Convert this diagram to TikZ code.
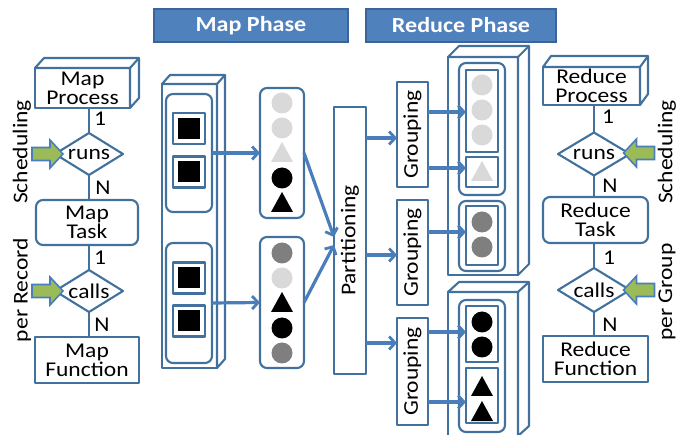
\documentclass[tikz,border=0pt]{standalone}
\usepackage{fontspec}
\setmainfont{Carlito}[FakeStretch=1.12]
\usetikzlibrary{arrows.meta,calc,shapes.geometric}
\definecolor{bl}{HTML}{41719C}
\definecolor{arc}{HTML}{4A7EBB}
\definecolor{hdr}{HTML}{4F81BD}
\definecolor{hdrb}{HTML}{3B649A}
\definecolor{grn}{HTML}{9BBB59}
\definecolor{lg}{HTML}{D9D9D9}
\definecolor{dg}{HTML}{7F7F7F}
\newcommand{\mytxt}{\fontsize{21}{19}\selectfont}
\newcommand{\cuboid}[3]{%
  \draw[shp, fill=white] (#1.north west) -- ++(#2,#3) -- ($(#1.north east)+(#2,#3)$) -- ($(#1.south east)+(#2,#3)$) -- (#1.south east) -- (#1.north east) -- cycle;
  \draw[shp] (#1.north east) -- ++(#2,#3);}
\begin{document}
\begin{tikzpicture}[x=1pt,y=-1pt,
  shp/.style={draw=bl, line width=2.1pt, line join=round},
  box/.style={shp, fill=white, inner sep=0pt, outer sep=0pt, align=center, font=\mytxt},
  rbox/.style={box, rounded corners=7pt},
  dia/.style={box, diamond, aspect=1.6, minimum width=68pt, minimum height=42pt},
  sq/.style={box, minimum width=32pt, minimum height=31pt},
  blk/.style={fill=black, minimum width=22pt, minimum height=21pt, inner sep=0pt},
  circ/.style={circle, minimum size=21pt, inner sep=0pt},
  lbl/.style={font=\mytxt, inner sep=0pt},
  hdrbox/.style={draw=hdrb, line width=1.2pt, fill=hdr, text=white, font=\fontsize{21.5}{19}\selectfont\bfseries, minimum height=33pt, inner sep=0pt},
  conn/.style={shp},
  arr/.style={draw=arc, line width=3.2pt, -{Straight Barb[length=6pt,width=13pt,line width=2.8pt]}},
  garrow/.pic={\draw[draw=arc, fill=grn, line width=1.6pt, line join=miter] (-15.5,-6.5) -- (2.5,-6.5) -- (2.5,-14) -- (15.5,0) -- (2.5,14) -- (2.5,6.5) -- (-15.5,6.5) -- cycle;},
  tri/.pic={\path[pic actions] (-11,9) -- (0,-11) -- (11,9) -- cycle;}
]
\useasboundingbox (0,0) rectangle (680,435);
\fill[white] (0,0) rectangle (680,435);
\clip (0,0) rectangle (680,435);

% headers
\node[hdrbox, minimum width=194pt] (hm) at (251,25.5) {Map Phase};
\node[hdrbox, minimum width=190pt] (hr) at (461,25.5) {Reduce Phase};

% ---------- left column ----------
\node[box, minimum width=95pt, minimum height=40pt] (mp) at (82.5,88) {Map\\Process};
\cuboid{mp}{9}{-10}
\node[dia] (runs1) at (89,154) {runs};
\node[rbox, minimum width=102pt, minimum height=45pt] (mt) at (87,222.5) {Map\\Task};
\node[dia] (calls1) at (89,291) {calls};
\node[box, minimum width=104pt, minimum height=46pt] (mf) at (87,360) {Map\\Function};
\draw[conn] (runs1.north) -- (runs1.north |- mp.south);
\draw[conn] (runs1.south) -- (runs1.south |- mt.north);
\draw[conn] (calls1.north) -- (calls1.north |- mt.south);
\draw[conn] (calls1.south) -- (calls1.south |- mf.north);
\node[lbl] (l1a) at (100,119) {1};
\node[lbl] (l1b) at (103,188) {N};
\node[lbl] (l1c) at (100,258) {1};
\node[lbl] (l1d) at (102,325) {N};
\pic at (47.5,154) {garrow};
\pic at (47.5,291) {garrow};
\node[lbl, rotate=90] (sch1) at (22,152) {Scheduling};
\node[lbl, rotate=90] (rec1) at (22,290) {per Record};

% ---------- right column ----------
\node[box, minimum width=97pt, minimum height=38pt] (rp) at (591.5,86) {Reduce\\Process};
\cuboid{rp}{8}{-11}
\node[dia, minimum width=72pt, minimum height=43pt] (runs2) at (594,154) {runs};
\node[rbox, minimum width=105pt, minimum height=46pt] (rt) at (595.5,220) {Reduce\\Task};
\node[dia, minimum width=72pt, minimum height=44pt] (calls2) at (594,290) {calls};
\node[box, minimum width=105pt, minimum height=46pt] (rf) at (595.5,359) {Reduce\\Function};
\draw[conn] (runs2.north) -- (runs2.north |- rp.south);
\draw[conn] (runs2.south) -- (runs2.south |- rt.north);
\draw[conn] (calls2.north) -- (calls2.north |- rt.south);
\draw[conn] (calls2.south) -- (calls2.south |- rf.north);
\node[lbl] (r1a) at (608,117) {1};
\node[lbl] (r1b) at (610,186) {N};
\node[lbl] (r1c) at (609,258) {1};
\node[lbl] (r1d) at (610,325) {N};
\pic[xscale=-1] at (639,153) {garrow};
\pic[xscale=-1] at (639,290) {garrow};
\node[lbl, rotate=90] (sch2) at (667,152) {Scheduling};
\node[lbl, rotate=90] (grp2) at (667,292) {per Group};

% ---------- map side ----------
\node[box, minimum width=55pt, minimum height=284pt] (MB) at (189.5,226) {};
\cuboid{MB}{8}{-9}
\node[rbox, minimum width=46pt, minimum height=118pt] (mr1) at (189,153) {};
\node[sq] (s1) at (189,128.5) {}; \node[blk] (s1b) at (s1) {};
\node[sq] (s2) at (189,172) {}; \node[blk] (s2b) at (s2) {};
\node[rbox, minimum width=46pt, minimum height=120pt] (mr2) at (189,303) {};
\node[sq] (s3) at (189,278) {}; \node[blk] (s3b) at (s3) {};
\node[sq] (s4) at (189,321) {}; \node[blk] (s4b) at (s4) {};

\node[rbox, minimum width=44pt, minimum height=130pt] (L1) at (282,153) {};
\node[circ, fill=lg] (L1a) at (282,103) {};
\node[circ, fill=lg] (L1b) at (282,128) {};
\pic[fill=lg] at (282,153) {tri};
\node[circ, fill=black] (L1d) at (282,178) {};
\pic[fill=black] at (282,203) {tri};

\node[rbox, minimum width=44pt, minimum height=131pt] (L2) at (282,302.5) {};
\node[circ, fill=dg] (L2a) at (282,253) {};
\node[circ, fill=lg] (L2b) at (282,278) {};
\pic[fill=black] at (282,303) {tri};
\node[circ, fill=black] (L2d) at (282,328) {};
\node[circ, fill=dg] (L2e) at (282,353) {};

\draw[arr] (mr1.east) -- (L1.west);
\draw[arr] (mr2.east) -- (L2.west);

\node[box, minimum width=32pt, minimum height=267pt] (P) at (350,240.5) {};
\node[lbl, rotate=90] (Pt) at (P) {Partitioning};
\draw[arr] (L1.east) -- (P.west |- 0,237);
\draw[arr] (L2.east) -- (P.west |- 0,245);

% ---------- reduce side ----------
\node[box, minimum width=31pt, minimum height=105pt] (G1) at (412.5,134.5) {};
\node[lbl, rotate=90] (G1t) at (G1) {Grouping};
\node[box, minimum width=31pt, minimum height=105pt] (G2) at (412.5,252.5) {};
\node[lbl, rotate=90] (G2t) at (G2) {Grouping};
\node[box, minimum width=31pt, minimum height=107pt] (G3) at (412.5,371.5) {};
\node[lbl, rotate=90] (G3t) at (G3) {Grouping};
\draw[arr] (P.east |- 0,138) -- (G1.west |- 0,138);
\draw[arr] (P.east |- 0,255) -- (G2.west |- 0,255);
\draw[arr] (P.east |- 0,343) -- (G3.west |- 0,343);

\node[box, minimum width=70pt, minimum height=218pt] (RB1) at (483,166) {};
\cuboid{RB1}{11}{-11}
\node[rbox, minimum width=46pt, minimum height=132pt] (ra) at (482,129) {};
\node[box, minimum width=32pt, minimum height=82pt] (A1) at (482,111) {};
\node[circ, fill=lg] (A1a) at (482,85) {};
\node[circ, fill=lg] (A1b) at (482,110) {};
\node[circ, fill=lg] (A1c) at (482,135) {};
\node[box, minimum width=32pt, minimum height=30pt] (A2) at (482,172) {};
\pic[fill=lg] at (482,172) {tri};
\node[rbox, minimum width=46pt, minimum height=70pt] (rb) at (482,236) {};
\node[box, minimum width=32pt, minimum height=59pt] (B1) at (482,235.5) {};
\node[circ, fill=dg] (B1a) at (482,222) {};
\node[circ, fill=dg] (B1b) at (482,247) {};

\node[box, minimum width=70pt, minimum height=144pt] (RB2) at (483,364) {};
\cuboid{RB2}{11}{-10}
\node[rbox, minimum width=46pt, minimum height=132pt] (rc) at (482,366) {};
\node[box, minimum width=32pt, minimum height=56pt] (C1) at (482,334) {};
\node[circ, fill=black] (C1a) at (482,322) {};
\node[circ, fill=black] (C1b) at (482,347) {};
\node[box, minimum width=32pt, minimum height=55pt] (C2) at (482,395.5) {};
\pic[fill=black] at (482,387) {tri};
\pic[fill=black] at (482,412) {tri};

\draw[arr] (G1.east |- 0,112) -- (A1.west |- 0,112);
\draw[arr] (G1.east |- 0,168) -- (A2.west |- 0,168);
\draw[arr] (G2.east |- 0,232) -- (B1.west |- 0,232);
\draw[arr] (G3.east |- 0,332) -- (C1.west |- 0,332);
\draw[arr] (G3.east |- 0,402) -- (C2.west |- 0,402);
\end{tikzpicture}
\end{document}
